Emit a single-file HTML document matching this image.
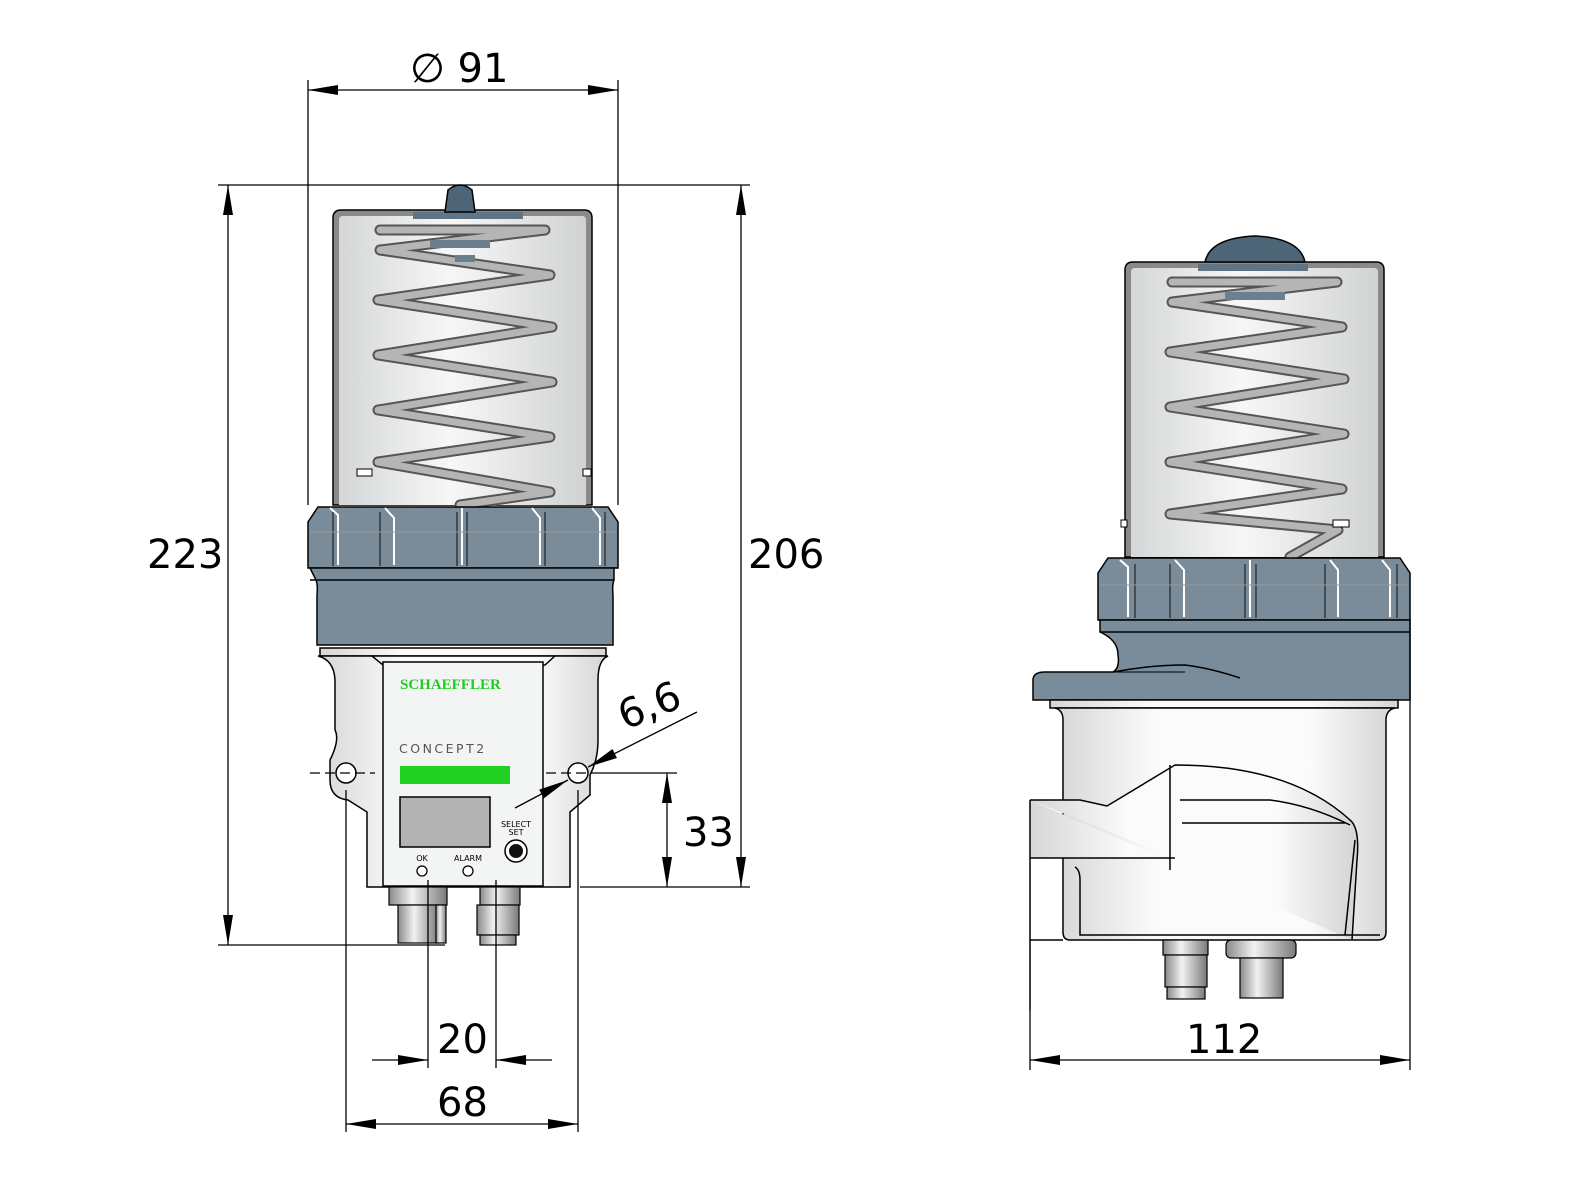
<!DOCTYPE html>
<html><head><meta charset="utf-8"><style>html,body{margin:0;padding:0;background:#fff}svg{display:block}text{font-family:"DejaVu Sans","Liberation Sans",sans-serif}</style></head><body>
<svg width="1588" height="1200" viewBox="0 0 1588 1200" xmlns="http://www.w3.org/2000/svg">
<defs>
<linearGradient id="cyl" x1="0" x2="1"><stop offset="0" stop-color="#d4d6d7"/><stop offset="0.45" stop-color="#f7f7f7"/><stop offset="1" stop-color="#d0d2d3"/></linearGradient>
<linearGradient id="body" x1="0" x2="1"><stop offset="0" stop-color="#d6d6d6"/><stop offset="0.3" stop-color="#fbfbfb"/><stop offset="0.75" stop-color="#fbfbfb"/><stop offset="1" stop-color="#d4d4d4"/></linearGradient>
<linearGradient id="met" x1="0" x2="1"><stop offset="0" stop-color="#8a8a8a"/><stop offset="0.4" stop-color="#f2f2f2"/><stop offset="1" stop-color="#7a7a7a"/></linearGradient>
<marker id="a" viewBox="0 0 30 10" refX="30" refY="5" markerWidth="30" markerHeight="10" markerUnits="userSpaceOnUse" orient="auto"><path d="M0,0L30,5L0,10z" fill="#000"/></marker>
<marker id="b" viewBox="0 0 30 10" refX="0" refY="5" markerWidth="30" markerHeight="10" markerUnits="userSpaceOnUse" orient="auto"><path d="M30,0L0,5L30,10z" fill="#000"/></marker>
</defs>

<g stroke="#000" stroke-width="1.5">
<path d="M333,505 V218 Q333,210 341,210 H584 Q592,210 592,218 V505 Z" fill="#8a8a8a"/>
<path d="M339,505 V220 Q339,216 343,216 H582 Q586,216 586,220 V505 Z" fill="url(#cyl)" stroke="none"/>
<rect x="413" y="212" width="110" height="7" fill="#5f7585" stroke="none"/>
</g>
<g fill="none" stroke-linejoin="round" stroke-linecap="round">
<polyline points="380,230 545,230 380,250 550,275 378,300 552,327 378,355 552,382 378,410 550,437 378,462 550,492 460,505" stroke="#555" stroke-width="11"/>
<polyline points="380,230 545,230 380,250 550,275 378,300 552,327 378,355 552,382 378,410 550,437 378,462 550,492 460,505" stroke="#b5b5b5" stroke-width="7"/>
</g>
<rect x="430" y="240" width="60" height="8" fill="#6b7f8c"/>
<rect x="455" y="255" width="20" height="7" fill="#6b7f8c"/>
<path d="M445,212 L448,190 Q460,180 472,190 L475,212 Z" fill="#4d6577" stroke="#000" stroke-width="1.5"/>
<rect x="357" y="469" width="15" height="7" fill="#fff" stroke="#000"/>
<rect x="583" y="469" width="8" height="7" fill="#fff" stroke="#000"/>

<g stroke="#000" stroke-width="1.5">
<path d="M308,568 V522 L318,507 H608 L618,522 V568 Z" fill="#7a8c99"/>
<g fill="none" stroke="#fff" stroke-width="2">
<path d="M330,508 L338,515 V565"/><path d="M385,508 L394,518 V565"/><path d="M462,508 V565"/><path d="M532,508 L540,518 V565"/><path d="M592,508 L600,518 V565"/>
</g>
<g fill="none" stroke="#222" stroke-width="1.2">
<path d="M333,512 V566"/><path d="M380,512 V566"/><path d="M457,512 V566"/><path d="M467,512 V566"/><path d="M545,512 V566"/><path d="M605,512 V566"/>
</g>
<line x1="310" y1="532" x2="616" y2="532" stroke="#999" stroke-width="1"/>
<path d="M310,568 H614 V580 Q612,585 613,595 V645 H317 V595 Q318,585 316,580 Z" fill="#7a8c99"/>
<line x1="310" y1="580" x2="614" y2="580" stroke="#000"/>
<path d="M320,648 H606 V656 H320 Z" fill="url(#body)"/>
<path d="M318,656 H608 Q598,660 598,680 V740 Q598,760 590,775 V795 L570,812 V887 H367 V812 L348,800 Q330,798 330,780 V760 Q340,740 335,730 V680 Q334,660 318,656 Z" fill="url(#body)"/>
<path d="M372,656 L383,665 H545 L555,656" fill="none"/>
<rect x="383" y="662" width="160" height="224" fill="#f3f5f5"/>
<circle cx="346" cy="773" r="10" fill="#fff"/>
<circle cx="578" cy="773" r="10" fill="#fff"/>
</g>
<text x="400" y="689" style="font-family:'Liberation Serif',serif;font-weight:bold;font-size:15px" fill="#1fcc1f">SCHAEFFLER</text>
<text x="399" y="753" font-size="12.5" letter-spacing="2.5" fill="#555">CONCEPT2</text>
<rect x="400" y="766" width="110" height="18" fill="#22d022"/>
<rect x="400" y="797" width="90" height="50" fill="#b3b3b3" stroke="#000" stroke-width="1.5"/>
<text x="516" y="827" font-size="8" text-anchor="middle">SELECT</text>
<text x="516" y="835" font-size="8" text-anchor="middle">SET</text>
<circle cx="516" cy="851" r="11" fill="#fff" stroke="#000" stroke-width="1.5"/>
<circle cx="516" cy="851" r="7" fill="#111"/>
<text x="422" y="861" font-size="8" text-anchor="middle">OK</text>
<text x="468" y="861" font-size="8" text-anchor="middle">ALARM</text>
<circle cx="422" cy="871" r="5" fill="#fff" stroke="#000" stroke-width="1.3"/>
<circle cx="468" cy="871" r="5" fill="#fff" stroke="#000" stroke-width="1.3"/>
<g stroke="#000" stroke-width="1.2">
<rect x="389" y="887" width="58" height="18" fill="url(#met)"/>
<rect x="398" y="905" width="40" height="38" fill="url(#met)"/>
<rect x="436" y="905" width="10" height="38" fill="url(#met)"/>
<rect x="480" y="887" width="40" height="18" fill="url(#met)"/>
<rect x="477" y="905" width="42" height="30" fill="url(#met)"/>
<rect x="480" y="935" width="36" height="10" fill="url(#met)"/>
</g>

<g stroke="#000" stroke-width="1.5">
<path d="M1125,557 V270 Q1125,262 1133,262 H1376 Q1384,262 1384,270 V557 Z" fill="#8a8a8a"/>
<path d="M1131,557 V272 Q1131,268 1135,268 H1374 Q1378,268 1378,272 V557 Z" fill="url(#cyl)" stroke="none"/>
<rect x="1198" y="264" width="110" height="7" fill="#5f7585" stroke="none"/>
</g>
<g fill="none" stroke-linejoin="round" stroke-linecap="round">
<polyline points="1172,282 1337,282 1172,302 1342,327 1170,352 1344,379 1170,407 1344,434 1170,462 1342,489 1170,514 1338,530 1290,557" stroke="#555" stroke-width="11"/>
<polyline points="1172,282 1337,282 1172,302 1342,327 1170,352 1344,379 1170,407 1344,434 1170,462 1342,489 1170,514 1338,530 1290,557" stroke="#b5b5b5" stroke-width="7"/>
</g>
<rect x="1225" y="292" width="60" height="8" fill="#6b7f8c"/>
<path d="M1205,262 Q1210,238 1255,236 Q1300,238 1305,262 Z" fill="#4d6577" stroke="#000" stroke-width="1.5"/>
<rect x="1333" y="520" width="16" height="7" fill="#fff" stroke="#000"/>
<rect x="1121" y="520" width="6" height="7" fill="#fff" stroke="#000"/>

<g stroke="#000" stroke-width="1.5">
<path d="M1098,620 V573 L1108,558 H1400 L1410,573 V620 Z" fill="#7a8c99"/>
<g fill="none" stroke="#fff" stroke-width="2">
<path d="M1120,560 L1128,567 V617"/><path d="M1175,560 L1184,570 V617"/><path d="M1250,560 V617"/><path d="M1330,560 L1338,570 V617"/><path d="M1382,560 L1390,570 V617"/>
</g>
<g fill="none" stroke="#222" stroke-width="1.2">
<path d="M1135,564 V618"/><path d="M1170,564 V618"/><path d="M1245,564 V618"/><path d="M1256,564 V618"/><path d="M1325,564 V618"/><path d="M1397,564 V618"/>
</g>
<line x1="1100" y1="585" x2="1408" y2="585" stroke="#999" stroke-width="1"/>
<path d="M1100,620 H1410 V700 H1033 V680 Q1033,672 1045,672 H1113 Q1120,668 1118,655 Q1118,640 1100,632 Z" fill="#7a8c99"/>
<line x1="1100" y1="632" x2="1410" y2="632"/>
<path d="M1113,672 Q1150,665 1185,665 Q1210,668 1240,678" fill="none"/>
<path d="M1050,672 H1185" fill="none" stroke-width="1"/>
<rect x="1050" y="700" width="348" height="8" fill="url(#body)"/>
<path d="M1055,708 H1395 Q1386,710 1386,720 V932 Q1386,940 1378,940 H1070 Q1063,940 1063,932 V720 Q1063,710 1055,708 Z" fill="url(#body)"/>
<path d="M1030,800 H1080 L1107,806 L1175,765 Q1290,765 1350,820 Q1360,828 1357,860 L1352,940 M1030,800 V858 H1175" fill="url(#body)"/>
<path d="M1030,858 V1010 M1030,940 H1063 M1170,765 V870" fill="none"/>
<path d="M1180,800 H1270 Q1310,805 1350,825" fill="none"/>
<path d="M1182,823 H1345" fill="none"/>
<path d="M1075,867 Q1080,870 1080,880 V935 H1380" fill="none"/>
<path d="M1355,840 L1345,935" fill="none"/>
</g>
<g stroke="#000" stroke-width="1.2">
<rect x="1163" y="940" width="45" height="15" fill="url(#met)"/>
<rect x="1165" y="955" width="42" height="32" fill="url(#met)"/>
<rect x="1167" y="987" width="38" height="12" fill="url(#met)"/>
<rect x="1226" y="940" width="70" height="18" rx="5" fill="url(#met)"/>
<rect x="1240" y="958" width="43" height="40" fill="url(#met)"/>
</g>

<g stroke="#000" stroke-width="1.3" fill="none">
<line x1="308" y1="80" x2="308" y2="505"/>
<line x1="618" y1="80" x2="618" y2="505"/>
<line x1="218" y1="185" x2="750" y2="185"/>
<line x1="218" y1="945" x2="445" y2="945"/>
<line x1="580" y1="887" x2="750" y2="887"/>
<line x1="346" y1="790" x2="346" y2="1132"/>
<line x1="578" y1="790" x2="578" y2="1132"/>
<line x1="428" y1="880" x2="428" y2="1068"/>
<line x1="496" y1="880" x2="496" y2="1068"/>
<line x1="1030" y1="1010" x2="1030" y2="1070"/>
<line x1="1410" y1="620" x2="1410" y2="1070"/>
<line x1="598" y1="773" x2="677" y2="773"/>
<line x1="310" y1="773" x2="375" y2="773" stroke-dasharray="10,5"/>
<line x1="546" y1="773" x2="598" y2="773" stroke-dasharray="10,5"/>
<line x1="308" y1="90" x2="618" y2="90" marker-start="url(#b)" marker-end="url(#a)"/>
<line x1="228" y1="185" x2="228" y2="945" marker-start="url(#b)" marker-end="url(#a)"/>
<line x1="741" y1="185" x2="741" y2="887" marker-start="url(#b)" marker-end="url(#a)"/>
<line x1="667" y1="773" x2="667" y2="887" marker-start="url(#b)" marker-end="url(#a)"/>
<line x1="372" y1="1060" x2="428" y2="1060" marker-end="url(#a)"/>
<line x1="552" y1="1060" x2="496" y2="1060" marker-end="url(#a)"/>
<line x1="346" y1="1124" x2="578" y2="1124" marker-start="url(#b)" marker-end="url(#a)"/>
<line x1="1030" y1="1060" x2="1410" y2="1060" marker-start="url(#b)" marker-end="url(#a)"/>
<line x1="515" y1="808" x2="568" y2="780" marker-end="url(#a)"/>
<line x1="697" y1="712" x2="588" y2="767" marker-end="url(#a)"/>
</g>
<g font-size="40" fill="#000">
<text x="410" y="82">∅ 91</text>
<text x="147" y="568">223</text>
<text x="748" y="568">206</text>
<text x="683" y="846">33</text>
<text x="437" y="1053">20</text>
<text x="437" y="1116">68</text>
<text x="1186" y="1053">112</text>
<text x="625" y="730" transform="rotate(-22 625 730)">6,6</text>
</g>
</svg>
</body></html>
